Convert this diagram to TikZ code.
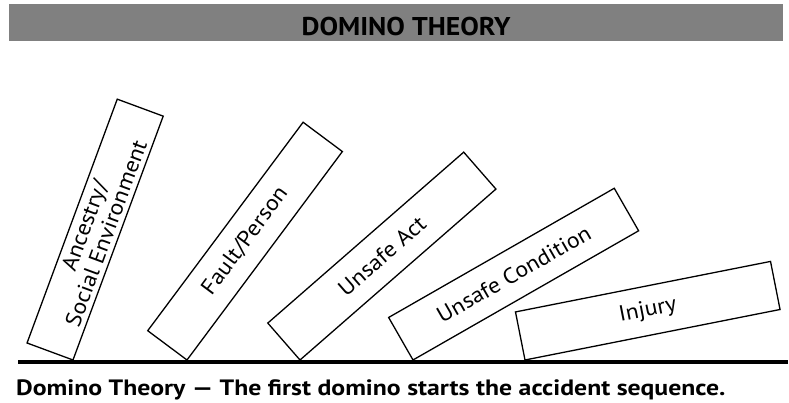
\documentclass[tikz,border=0pt]{standalone}
\usepackage{fontspec}
\setmainfont{PT Sans}[FakeStretch=1.08]
\newfontfamily\capfont{PT Sans}[FakeStretch=1.16]
\usetikzlibrary{calc}
\begin{document}
\begin{tikzpicture}[x=1pt,y=1pt,
  domino/.style={draw=black, line width=1.3pt, minimum width=260pt, minimum height=49pt,
    inner sep=0pt, align=center, font=\fontsize{22}{23}\selectfont},
  titlebar/.style={fill=black!50, draw=none, minimum width=774pt, minimum height=37pt, inner sep=0pt},
  titletext/.style={font=\bfseries\fontsize{25.7}{26}\selectfont, inner sep=0pt, anchor=base},
  captiontext/.style={font=\capfont\bfseries\fontsize{22.2}{24}\selectfont, inner sep=0pt, anchor=base west},
  ground/.style={line width=4pt, draw=black}]
\useasboundingbox (0,0) rectangle (789,403);
% title bar
\node[titlebar] (bar) at (396,380) {};
\node[titletext] (title) at (406,367) {DOMINO THEORY};
% ground
\coordinate (g0) at (18,41);
\coordinate (g1) at (788,41);
\draw[ground] (g0) -- (g1);
% pivots
\coordinate (p1) at (73,43);
\coordinate (p2) at (187,43);
\coordinate (p3) at (300,43);
\coordinate (p4) at (413,43);
\coordinate (p5) at (525,43);
% dominoes
\node[domino, rotate=69.7] (d1) at ($(p1)+(69.7:130)+(159.7:24.5)$) {Ancestry/\\Social Environment};
\node[domino, rotate=53.3] (d2) at ($(p2)+(53.3:130)+(143.3:24.5)$) {Fault/Person};
\node[domino, rotate=41.1] (d3) at ($(p3)+(41.1:130)+(131.1:24.5)$) {Unsafe Act};
\node[domino, rotate=29.8] (d4) at ($(p4)+(29.8:130)+(119.8:24.5)$) {Unsafe Condition};
\node[domino, rotate=11.2] (d5) at ($(p5)+(11.2:130)+(101.2:24.5)$) {Injury};
% caption
\node[captiontext] (cap) at (16,7) {Domino Theory — The first domino starts the accident sequence.};
\end{tikzpicture}
\end{document}
